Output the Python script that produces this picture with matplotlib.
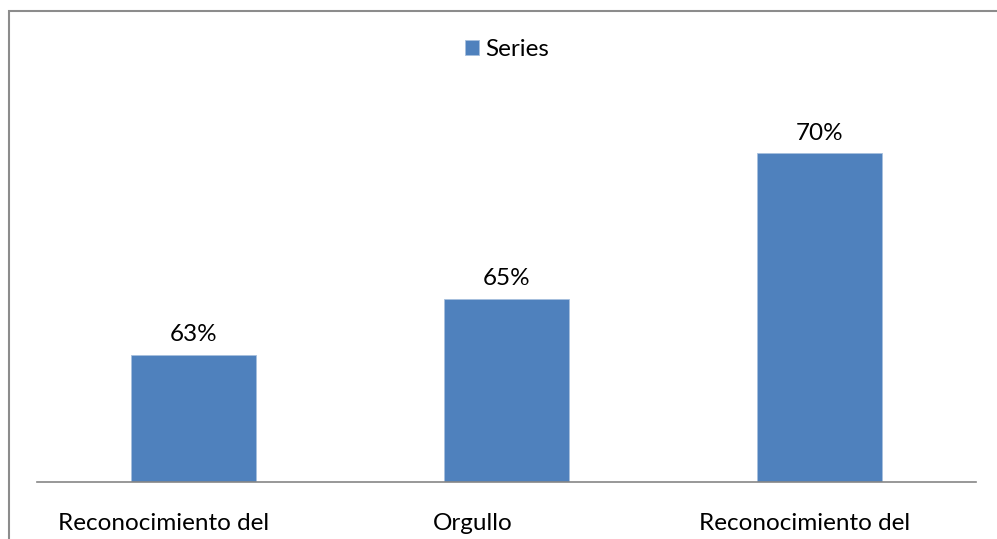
import matplotlib
matplotlib.use("Agg")
import matplotlib.pyplot as plt
from matplotlib.patches import Rectangle
from matplotlib.transforms import blended_transform_factory, offset_copy

categories = ["Reconocimiento del", "Orgullo", "Reconocimiento del"]
values = [63.0, 65.0, 70.2]
series_name = "Series"

plt.rcParams['font.family'] = ['Lato', 'DejaVu Sans']

W, H = 997, 539
fig = plt.figure(figsize=(W / 100, H / 100), dpi=100)
ax = fig.add_axes([37 / W, 57 / H, 939 / W, 402 / H])

bar_color = "#4F81BD"
ax.bar(range(len(categories)), values, width=0.4, color=bar_color,
       edgecolor="#A7C0DE", linewidth=0.6, label=series_name)
ax.set_xlim(-0.5, len(categories) - 0.5)
ax.set_ylim(58.45, 58.45 + 402 / 28)

for s in ["top", "left", "right"]:
    ax.spines[s].set_visible(False)
ax.spines["bottom"].set_color("#868686")
ax.spines["bottom"].set_linewidth(1.2)
ax.set_xticks([])
ax.set_yticks([])

fs = 17.5
for i, v in enumerate(values):
    ax.annotate(f"{v:.0f}%", (i, v), xytext=(0, 14.4), textcoords="offset points",
                ha="center", va="center", fontsize=fs, color="#000000")

# category labels (first line of wrapped labels, shifted left as in source)
label_shift_px = [-30, -34, -15]
trans = blended_transform_factory(ax.transData, ax.transAxes)
for i, (c, dx) in enumerate(zip(categories, label_shift_px)):
    t = offset_copy(trans, fig=fig, x=dx, y=-42, units="dots")
    ax.text(i, 0, c, transform=t, ha="center", va="center", fontsize=fs, color="#000000")

fig.legend(loc="center", bbox_to_anchor=(507 / W, 1 - 50 / H), frameon=False,
           fontsize=fs, handlelength=0.58, handleheight=0.58, handletextpad=0.25,
           borderpad=0, borderaxespad=0)

fig.patches.append(Rectangle((9 / W, -0.1), 1.2, (H - 11) / H + 0.1,
                             transform=fig.transFigure, fill=False,
                             edgecolor="#8c8c8c", linewidth=1.5))

fig.savefig("out.png", dpi=100)
